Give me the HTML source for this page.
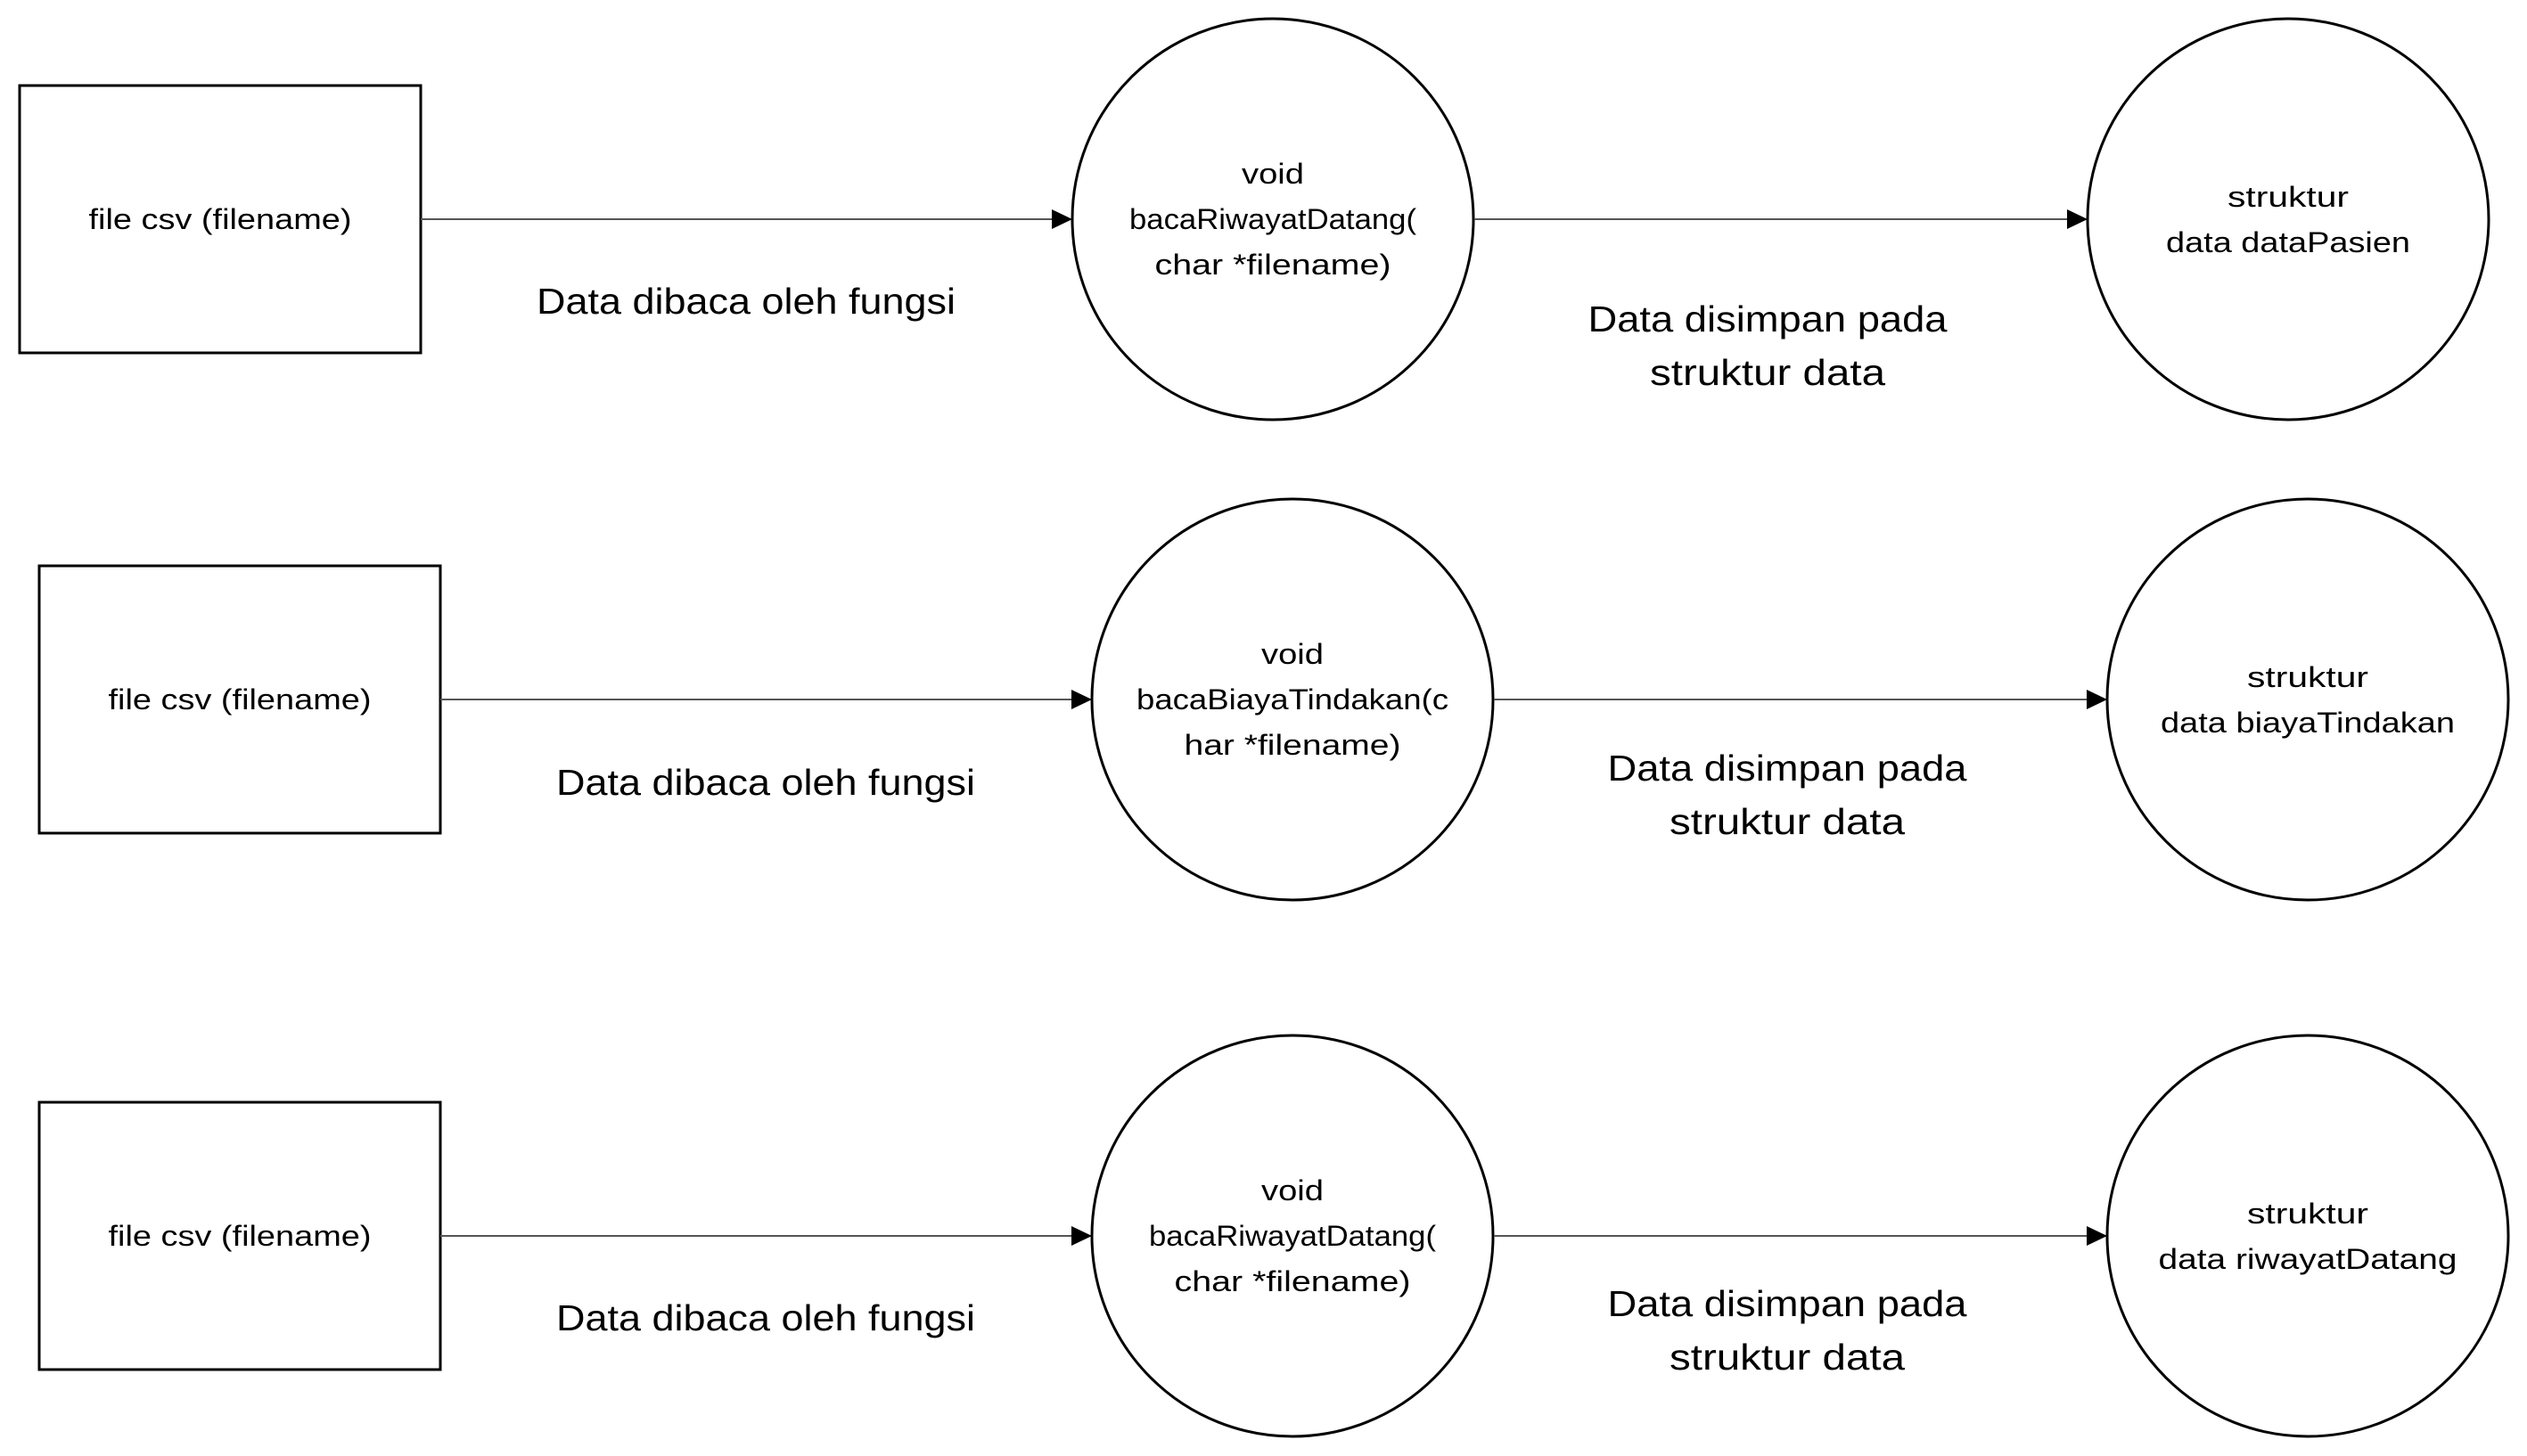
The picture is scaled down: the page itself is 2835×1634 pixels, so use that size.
<!DOCTYPE html>
<html><head><meta charset="utf-8"><style>html,body{margin:0;padding:0;background:#fff}svg{display:block}</style></head>
<body>
<svg width="2835" height="1634" viewBox="0 0 2835 1634" xmlns="http://www.w3.org/2000/svg" font-family="Liberation Sans, sans-serif" fill="#000">
<g stroke="#000" stroke-width="3" fill="none">
<rect x="22" y="96" width="450" height="300"/>
<circle cx="1428" cy="246" r="225"/>
<circle cx="2567" cy="246" r="225"/>
<rect x="44" y="635" width="450" height="300"/>
<circle cx="1450" cy="785" r="225"/>
<circle cx="2589" cy="785" r="225"/>
<rect x="44" y="1237" width="450" height="300"/>
<circle cx="1450" cy="1387" r="225"/>
<circle cx="2589" cy="1387" r="225"/>
</g>
<g stroke="#555" stroke-width="2">
<line x1="472" y1="246" x2="1180" y2="246"/><path d="M1180,235 L1203,246 L1180,257z" fill="#000" stroke="none"/>
<line x1="1654" y1="246" x2="2319" y2="246"/><path d="M2319,235 L2342,246 L2319,257z" fill="#000" stroke="none"/>
<line x1="494" y1="785" x2="1202" y2="785"/><path d="M1202,774 L1225,785 L1202,796z" fill="#000" stroke="none"/>
<line x1="1676" y1="785" x2="2341" y2="785"/><path d="M2341,774 L2364,785 L2341,796z" fill="#000" stroke="none"/>
<line x1="494" y1="1387" x2="1202" y2="1387"/><path d="M1202,1376 L1225,1387 L1202,1398z" fill="#000" stroke="none"/>
<line x1="1676" y1="1387" x2="2341" y2="1387"/><path d="M2341,1376 L2364,1387 L2341,1398z" fill="#000" stroke="none"/>
</g>
<g font-size="32" text-anchor="middle">
<text x="247" y="257" textLength="295" lengthAdjust="spacingAndGlyphs">file csv (filename)</text>
<text x="269" y="796" textLength="295" lengthAdjust="spacingAndGlyphs">file csv (filename)</text>
<text x="269" y="1398" textLength="295" lengthAdjust="spacingAndGlyphs">file csv (filename)</text>

<text x="1428" y="206" textLength="70" lengthAdjust="spacingAndGlyphs">void</text>
<text x="1428" y="257" textLength="322" lengthAdjust="spacingAndGlyphs">bacaRiwayatDatang(</text>
<text x="1428" y="308" textLength="265" lengthAdjust="spacingAndGlyphs">char *filename)</text>

<text x="1450" y="745" textLength="70" lengthAdjust="spacingAndGlyphs">void</text>
<text x="1450" y="796" textLength="350" lengthAdjust="spacingAndGlyphs">bacaBiayaTindakan(c</text>
<text x="1450" y="847" textLength="243" lengthAdjust="spacingAndGlyphs">har *filename)</text>

<text x="1450" y="1347" textLength="70" lengthAdjust="spacingAndGlyphs">void</text>
<text x="1450" y="1398" textLength="322" lengthAdjust="spacingAndGlyphs">bacaRiwayatDatang(</text>
<text x="1450" y="1449" textLength="265" lengthAdjust="spacingAndGlyphs">char *filename)</text>

<text x="2567" y="232" textLength="136" lengthAdjust="spacingAndGlyphs">struktur</text>
<text x="2567" y="283" textLength="274" lengthAdjust="spacingAndGlyphs">data dataPasien</text>
<text x="2589" y="771" textLength="136" lengthAdjust="spacingAndGlyphs">struktur</text>
<text x="2589" y="822" textLength="330" lengthAdjust="spacingAndGlyphs">data biayaTindakan</text>
<text x="2589" y="1373" textLength="136" lengthAdjust="spacingAndGlyphs">struktur</text>
<text x="2589" y="1424" textLength="335" lengthAdjust="spacingAndGlyphs">data riwayatDatang</text>
</g>
<g font-size="41" text-anchor="middle">
<text x="837" y="352" textLength="470" lengthAdjust="spacingAndGlyphs">Data dibaca oleh fungsi</text>
<text x="859" y="892" textLength="470" lengthAdjust="spacingAndGlyphs">Data dibaca oleh fungsi</text>
<text x="859" y="1493" textLength="470" lengthAdjust="spacingAndGlyphs">Data dibaca oleh fungsi</text>

<text x="1983" y="372" textLength="403" lengthAdjust="spacingAndGlyphs">Data disimpan pada</text>
<text x="1983" y="432" textLength="264" lengthAdjust="spacingAndGlyphs">struktur data</text>
<text x="2005" y="876" textLength="403" lengthAdjust="spacingAndGlyphs">Data disimpan pada</text>
<text x="2005" y="936" textLength="264" lengthAdjust="spacingAndGlyphs">struktur data</text>
<text x="2005" y="1477" textLength="403" lengthAdjust="spacingAndGlyphs">Data disimpan pada</text>
<text x="2005" y="1537" textLength="264" lengthAdjust="spacingAndGlyphs">struktur data</text>
</g>
</svg>
</body></html>
